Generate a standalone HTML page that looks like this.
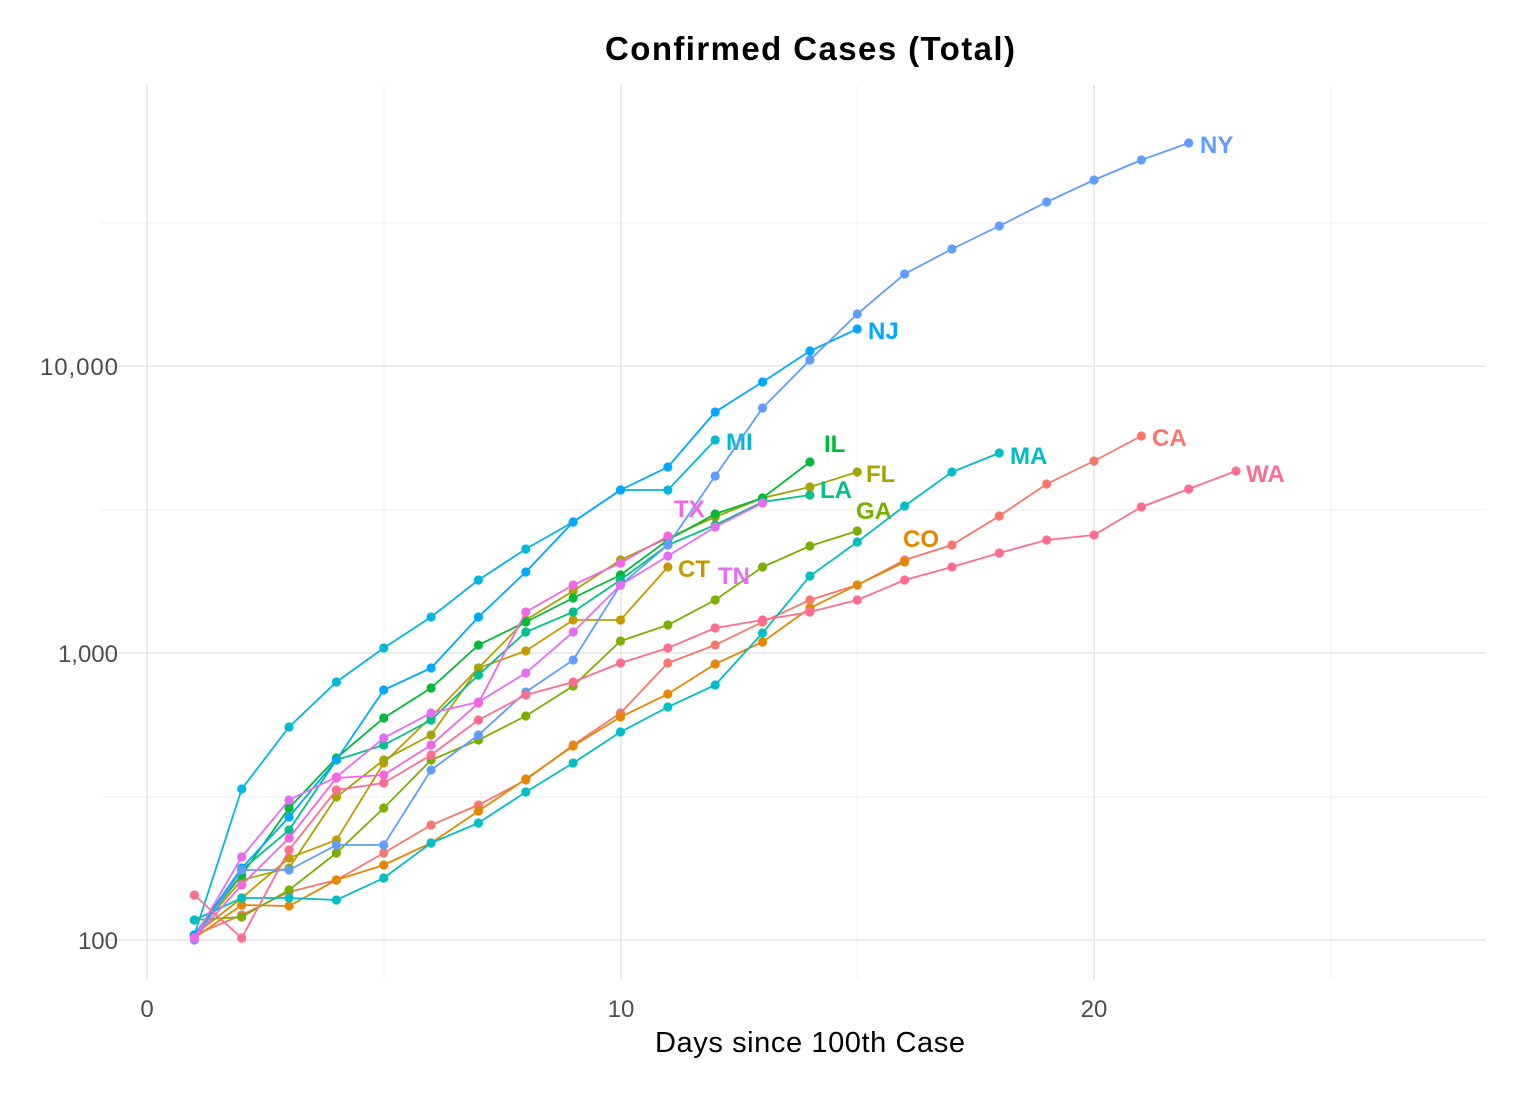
<!DOCTYPE html>
<html><head><meta charset="utf-8"><style>
body{margin:0;background:#fff}
svg{display:block;font-family:"Liberation Sans",Arial,sans-serif}
</style></head><body>
<svg id="s" width="1524" height="1102" xmlns="http://www.w3.org/2000/svg">
<rect width="1524" height="1102" fill="#fff"/>
<g stroke="#f2f2f2" stroke-width="1.2">
<line x1="100" x2="1486" y1="797" y2="797"/><line x1="100" x2="1486" y1="510" y2="510"/><line x1="100" x2="1486" y1="223" y2="223"/>
<line x1="384" x2="384" y1="85" y2="980"/><line x1="857" x2="857" y1="85" y2="980"/><line x1="1331" x2="1331" y1="85" y2="980"/>
</g>
<g stroke="#e6e6e6" stroke-width="1.6">
<line x1="100" x2="1486" y1="940" y2="940"/><line x1="100" x2="1486" y1="653" y2="653"/><line x1="100" x2="1486" y1="366" y2="366"/>
<line x1="147" x2="147" y1="85" y2="980"/><line x1="621" x2="621" y1="85" y2="980"/><line x1="1094" x2="1094" y1="85" y2="980"/>
</g>
<g font-size="24" fill="#4d4d4d">
<text x="118" y="949" text-anchor="end">100</text>
<text x="118" y="662" text-anchor="end">1,000</text>
<text x="118" y="375" text-anchor="end" textLength="78">10,000</text>
<text x="147" y="1017" text-anchor="middle">0</text>
<text x="621" y="1017" text-anchor="middle">10</text>
<text x="1094" y="1017" text-anchor="middle">20</text>
</g>
<text x="655" y="1052" font-size="29" textLength="310" fill="#000">Days since 100th Case</text>
<text x="605" y="60" font-size="33" font-weight="bold" textLength="410" fill="#000">Confirmed Cases (Total)</text>
<g id="g"></g>
</svg>
<script>
const S=[
["#F8766D","CA",[935,915,892,880,853,825,805,780,745,713,663,645,622,600,585,560,545,516,484,461,436],1152,446],
["#E58700","CO",[938,905,906,880,865,843,811,779,746,717,694,664,642,608,585,562],903,547],
["#C49A00","CT",[935,898,858,840,763,717,668,651,620,620,567],678,577],
["#A3A500","FL",[935,880,868,797,760,735,668,620,591,560,538,517,498,487,472],866,482],
["#7CAE00","GA",[920,917,890,853,808,760,740,716,686,641,625,600,567,546,531],856,519],
["#00BA38","IL",[935,875,808,758,718,688,645,622,598,575,540,514,498,462],824,452],
["#00C08B","LA",[935,870,830,760,745,720,675,632,612,580,545,525,502,495],820,498],
["#00BFC4","MA",[920,898,898,900,878,843,823,792,763,732,707,685,633,576,542,506,472,453],1010,464],
["#00B8DA","MI",[935,789,727,682,648,617,580,549,522,490,490,440],726,450],
["#00A9FF","NJ",[935,868,817,760,690,668,617,572,522,490,467,412,382,351,329],868,339],
["#619CFF","NY",[940,870,870,845,845,770,735,692,660,585,545,476,408,360,314,274,249,226,202,180,160,143],1200,153],
["#E76BF3","TN",[938,857,800,777,738,713,702,673,632,585,556,527,503],718,584],
["#F564E3","TX",[938,885,838,778,775,745,703,612,585,563,536],674,517],
["#FF6C91","WA",[895,938,850,790,783,755,720,695,682,663,648,628,620,612,600,580,567,553,540,535,507,489,471],1246,482]
];
let h="";
for(const [c,n,ys,lx,ly] of S){
 const pts=ys.map((y,i)=>[147+47.35*(i+1),y]);
 h+=`<polyline fill="none" stroke="${c}" stroke-width="1.8" points="${pts.map(p=>p.join(",")).join(" ")}"/>`;
 for(const p of pts)h+=`<circle cx="${p[0]}" cy="${p[1]}" r="4.6" fill="${c}"/>`;
 h+=`<text x="${lx}" y="${ly}" font-size="24" font-weight="bold" fill="${c}">${n}</text>`;
}
document.getElementById("g").innerHTML=h;
</script>
</body></html>
